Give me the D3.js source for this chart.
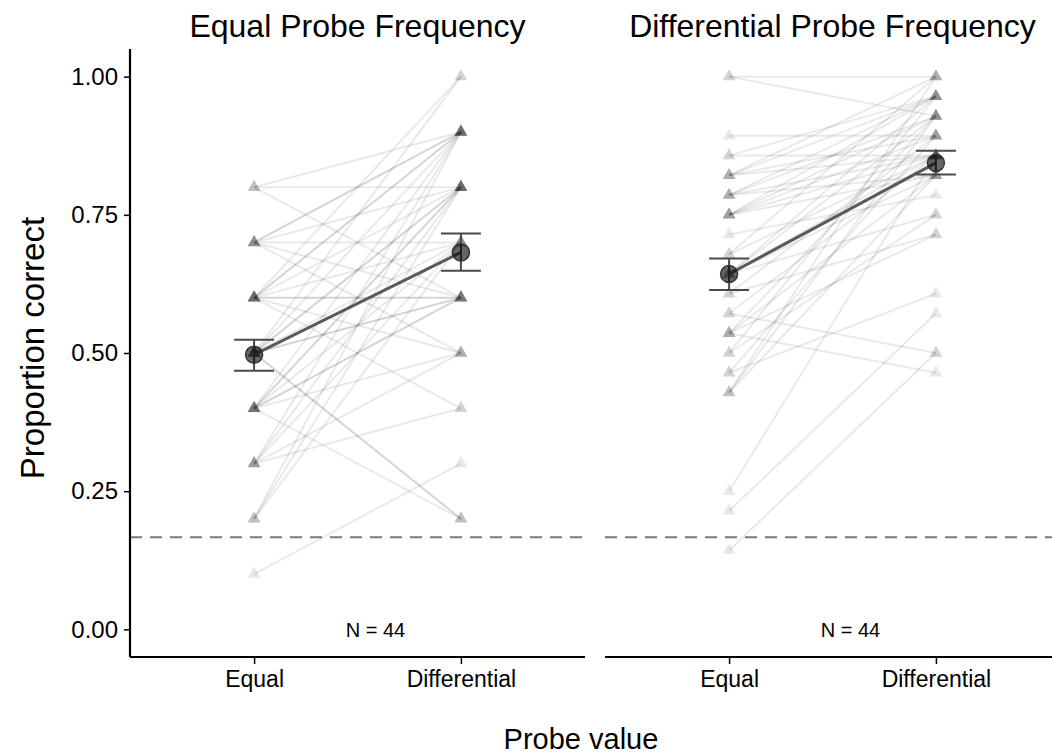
<!DOCTYPE html>
<html><head><meta charset="utf-8">
<script src="https://cdn.jsdelivr.net/npm/d3@7"></script>
<style>body{margin:0;background:#fff}svg{display:block}text{font-family:"Liberation Sans",Arial,Helvetica,sans-serif}</style>
</head><body><div id="chart"></div>
<script>
const panels = ["Equal Probe Frequency", "Differential Probe Frequency"];
const probeCats = ["Equal", "Differential"];
const yTicks = [0, 0.25, 0.5, 0.75, 1];
const chanceLevel = 1/6;
const nLabels = ["N = 44", "N = 44"];
// Panel 1: proportion correct out of 10 trials (Equal, Differential) per participant
const p1Equal = [8,8,8, 7,7,7,7,7,7, 6,6,6,6,6,6,6,6,6, 5,5,5,5,5,5,5,5,5, 4,4,4,4,4,4,4,4, 3,3,3,3,3, 2,2,2, 1].map(v=>v/10);
const p1Diff  = [9,6,8, 9,9,6,8,7,5, 10,9,8,7,6,6,5,9,4, 2,6,9,8,7,10,8,6,2, 2,6,9,8,7,5,8,6, 5,9,8,7,4, 8,7,9, 3].map(v=>v/10);
// Panel 2: proportion correct out of 28 trials
const p2Equal = [28,28, 25, 24,24, 23,23,23,23, 22,22,22,22, 21,21,21,21,21, 20, 19,19, 18,18,18,18,18, 17,17, 16,16, 15,15,15,15, 14,14, 13,13, 12,12,12, 7, 6, 4].map(v=>v/28);
const p2Diff  = [28,26, 25, 24,27, 27,28,24,25, 26,27,24,23, 27,26,25,24,23, 22, 24,28, 27,26,24,23,21, 25,20, 14,24, 13,26,23,20, 27,21, 25,17, 28,26,23, 24, 16, 14].map(v=>v/28);
const meanVals = [[0.497, 0.682], [0.643, 0.844]];
const seLo = [[0.468, 0.649], [0.614, 0.823]];
const seHi = [[0.524, 0.716], [0.671, 0.866]];

const W = 1052, H = 756;
const svg = d3.select("#chart").append("svg").attr("width", W).attr("height", H);
const panelW = 455, plotTop = 49, plotBottom = 657;
const panelX = [130, 605];
const y = d3.scaleLinear().domain([-0.05, 1.05]).range([plotBottom, plotTop]);
const subjData = [[p1Equal, p1Diff], [p2Equal, p2Diff]];
const FONT = '"Liberation Sans",Arial,sans-serif';

panels.forEach((title, pi) => {
  const x0 = panelX[pi];
  const x = d3.scalePoint().domain(probeCats).range([x0, x0 + panelW]).padding(0.6);
  const g = svg.append("g");
  g.append("line").attr("x1", x0).attr("x2", x0 + panelW).attr("y1", y(chanceLevel)).attr("y2", y(chanceLevel))
    .attr("stroke", "#7a7a7a").attr("stroke-width", 2).attr("stroke-dasharray", "12,8");
  const [eq, df] = subjData[pi];
  const pairs = eq.map((v, i) => [v, df[i]]);
  g.selectAll("line.subj").data(pairs).enter().append("line").attr("class", "subj")
    .attr("x1", x("Equal")).attr("x2", x("Differential"))
    .attr("y1", d => y(d[0])).attr("y2", d => y(d[1]))
    .attr("stroke", "#000").attr("stroke-opacity", 0.085).attr("stroke-width", 2);
  const pts = [];
  pairs.forEach(d => { pts.push(["Equal", d[0]]); pts.push(["Differential", d[1]]); });
  g.selectAll("path.tri").data(pts).enter().append("path").attr("class", "tri")
    .attr("d", d3.symbol().type(d3.symbolTriangle).size(72))
    .attr("transform", d => `translate(${x(d[0])},${y(d[1])})`)
    .attr("fill", "#000").attr("fill-opacity", 0.09);
  g.append("line").attr("x1", x("Equal")).attr("x2", x("Differential"))
    .attr("y1", y(meanVals[pi][0])).attr("y2", y(meanVals[pi][1]))
    .attr("stroke", "#5a5a5a").attr("stroke-width", 3);
  probeCats.forEach((c, ci) => {
    const cx = x(c);
    const eb = g.append("g").attr("stroke", "#4a4a4a").attr("stroke-width", 2);
    eb.append("line").attr("x1", cx).attr("x2", cx).attr("y1", y(seLo[pi][ci])).attr("y2", y(seHi[pi][ci]));
    eb.append("line").attr("x1", cx - 20).attr("x2", cx + 20).attr("y1", y(seLo[pi][ci])).attr("y2", y(seLo[pi][ci]));
    eb.append("line").attr("x1", cx - 20).attr("x2", cx + 20).attr("y1", y(seHi[pi][ci])).attr("y2", y(seHi[pi][ci]));
    g.append("circle").attr("cx", cx).attr("cy", y(meanVals[pi][ci])).attr("r", 8.5)
      .attr("fill", "#000").attr("fill-opacity", 0.6).attr("stroke", "#333").attr("stroke-width", 1.5);
  });
  g.append("text").attr("x", x0 + panelW / 2 + 18).attr("y", 637).attr("text-anchor", "middle")
    .attr("font-size", 20).attr("fill", "#000").text(nLabels[pi]);
  svg.append("text").attr("x", x0 + panelW / 2).attr("y", 37).attr("text-anchor", "middle")
    .attr("font-size", 32).attr("fill", "#000").text(title);
  const xa = svg.append("g").attr("transform", `translate(0,${plotBottom})`)
    .call(d3.axisBottom(x).tickSize(7).tickPadding(7).tickSizeOuter(0));
  xa.select(".domain").attr("stroke", "#000").attr("stroke-width", 2.2).attr("d", `M${x0},0H${x0 + panelW}`);
  xa.selectAll(".tick line").attr("stroke", "#000").attr("stroke-width", 1.5);
  xa.selectAll(".tick text").attr("font-size", 23).attr("fill", "#000").attr("font-family", FONT);
});

const ya = svg.append("g").attr("transform", `translate(${panelX[0]},0)`)
  .call(d3.axisLeft(y).tickValues(yTicks).tickFormat(d3.format(".2f")).tickSize(6).tickPadding(6).tickSizeOuter(0));
ya.select(".domain").attr("stroke", "#000").attr("stroke-width", 2.2).attr("d", `M0,${plotTop}V${plotBottom}`);
ya.selectAll(".tick line").attr("stroke", "#000").attr("stroke-width", 1.5);
ya.selectAll(".tick text").attr("font-size", 24).attr("fill", "#000").attr("font-family", FONT);

svg.append("text").attr("transform", "translate(44,348) rotate(-90)").attr("text-anchor", "middle")
  .attr("font-size", 33).attr("fill", "#000").text("Proportion correct");
svg.append("text").attr("x", 581).attr("y", 749).attr("text-anchor", "middle")
  .attr("font-size", 29).attr("fill", "#000").text("Probe value");
</script></body></html>
